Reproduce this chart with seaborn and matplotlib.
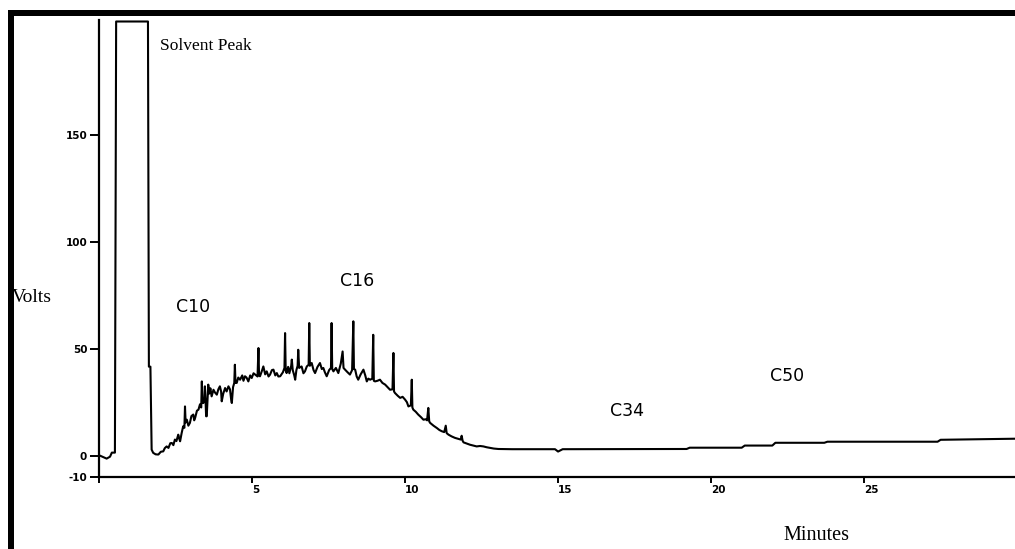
import numpy as np
import pandas as pd
import matplotlib
matplotlib.use("Agg")
import matplotlib.pyplot as plt
from matplotlib.patches import Rectangle
import seaborn as sns

# Retention time (minutes) and detector signal (volts) of the chromatogram trace
minutes = [
    0.03, 0.25, 0.36, 0.42, 0.52,
    0.56, 1.60, 1.63, 1.68, 1.72,
    1.77, 1.85, 1.94, 2.02, 2.10, 2.15, 2.21, 2.27, 2.33, 2.38,
    2.43, 2.48, 2.53, 2.59, 2.62, 2.65, 2.70, 2.75, 2.79, 2.81,
    2.83, 2.87, 2.92, 2.97, 3.02, 3.08, 3.11, 3.14, 3.20, 3.25,
    3.30, 3.34, 3.36, 3.38, 3.41, 3.44, 3.46, 3.48, 3.50, 3.52,
    3.55, 3.57, 3.60, 3.64, 3.68, 3.74, 3.79, 3.85, 3.90, 3.95,
    3.99, 4.01, 4.06, 4.12, 4.17, 4.23, 4.28, 4.32, 4.34, 4.38,
    4.42, 4.44, 4.46, 4.50, 4.55, 4.61, 4.68, 4.72, 4.77, 4.82,
    4.88, 4.94, 4.99, 5.05, 5.10, 5.18, 5.21, 5.23, 5.26, 5.32,
    5.37, 5.43, 5.48, 5.54, 5.59, 5.65, 5.70, 5.76, 5.81, 5.86,
    5.92, 6.01, 6.06, 6.08, 6.10, 6.13, 6.18, 6.22, 6.28, 6.30,
    6.33, 6.38, 6.41, 6.45, 6.49, 6.51, 6.54, 6.62, 6.68, 6.73,
    6.79, 6.85, 6.87, 6.89, 6.95, 7.01, 7.06, 7.14, 7.22, 7.28,
    7.33, 7.38, 7.44, 7.52, 7.58, 7.60, 7.62, 7.66, 7.74, 7.82,
    7.90, 7.96, 7.99, 8.04, 8.12, 8.20, 8.27, 8.31, 8.33, 8.37,
    8.42, 8.47, 8.55, 8.64, 8.70, 8.75, 8.80, 8.86, 8.93, 8.96,
    8.98, 9.02, 9.10, 9.18, 9.26, 9.35, 9.43, 9.51, 9.59, 9.62,
    9.64, 9.67, 9.76, 9.84, 9.92, 10.00, 10.06, 10.11, 10.19, 10.22,
    10.24, 10.27, 10.35, 10.43, 10.52, 10.60, 10.68, 10.72, 10.76, 10.79,
    10.82, 10.93, 11.04, 11.12, 11.20, 11.28, 11.33, 11.36, 11.42, 11.52,
    11.63, 11.75, 11.82, 11.85, 11.88, 11.91, 12.02, 12.12, 12.23, 12.34,
    12.45, 12.56, 12.67, 12.78, 12.90, 13.05, 13.50, 14.90, 15.00, 15.15,
    19.20, 19.30, 21.00, 21.10, 22.00, 22.10, 23.70, 23.80, 27.40, 27.50,
    29.93,
]
volts = [
    0.0, -1.4, -0.5, 1.4, 1.4,
    203.0, 203.0, 41.6, 41.6, 2.8,
    1.3, 0.6, 0.5, 1.8, 2.0, 3.5, 4.3, 3.6, 5.8, 5.9,
    4.9, 7.5, 6.8, 9.8, 8.0, 6.7, 10.5, 13.7, 13.0, 23.0,
    15.5, 16.8, 14.0, 15.3, 18.5, 19.2, 16.5, 17.6, 21.0, 21.5,
    24.0, 22.5, 34.7, 24.6, 24.6, 26.0, 32.4, 26.5, 18.4, 18.4,
    27.0, 33.2, 29.0, 31.5, 27.7, 30.8, 29.5, 28.5, 31.0, 32.4,
    30.0, 25.4, 29.0, 31.6, 30.0, 32.4, 31.0, 26.0, 24.6, 32.0,
    34.0, 42.5, 34.0, 34.0, 36.5, 35.5, 37.5, 35.0, 37.1, 36.5,
    34.7, 37.5, 36.3, 38.5, 37.9, 37.0, 50.3, 37.5, 37.1, 39.5,
    41.7, 38.0, 39.4, 37.0, 37.9, 40.0, 40.2, 37.5, 38.6, 37.0,
    37.1, 39.0, 41.0, 57.3, 40.0, 38.6, 41.5, 38.5, 42.0, 44.9,
    40.0, 37.5, 35.5, 40.0, 42.0, 49.5, 41.0, 41.7, 38.5, 39.4,
    41.7, 42.5, 62.0, 42.0, 43.3, 40.0, 38.6, 41.5, 43.3, 40.5,
    41.0, 39.0, 37.1, 40.0, 41.0, 62.0, 40.5, 39.4, 41.0, 38.6,
    43.0, 48.7, 41.0, 40.2, 39.0, 37.9, 40.0, 62.8, 40.5, 40.2,
    37.0, 35.5, 38.0, 40.2, 37.5, 34.7, 36.0, 35.5, 36.0, 56.5,
    35.0, 34.7, 35.0, 35.5, 34.0, 33.2, 32.0, 30.8, 31.0, 48.0,
    30.0, 29.3, 28.0, 27.0, 27.5, 26.2, 25.0, 23.0, 23.5, 35.5,
    22.5, 21.5, 20.5, 19.2, 18.0, 16.8, 17.0, 16.5, 22.3, 16.0,
    15.3, 14.0, 12.9, 12.0, 11.4, 11.0, 14.0, 10.5, 9.8, 9.0,
    8.3, 7.8, 7.5, 9.3, 7.0, 6.2, 5.6, 5.1, 4.7, 4.3,
    4.5, 4.3, 3.9, 3.6, 3.3, 3.1, 3.0, 3.0, 1.9, 3.0,
    3.1, 3.7, 3.7, 4.7, 4.7, 6.0, 6.0, 6.5, 6.5, 7.4,
    7.9,
]

y_ticks = [150, 100, 50, 0, -10]
x_ticks = [0, 5, 10, 15, 20, 25]
x_tick_labels = ["", "5", "10", "15", "20", "25"]

peak_labels = ["Solvent Peak", "C10", "C16", "C34", "C50"]
peak_label_minutes = [1.99, 2.52, 7.88, 16.7, 21.93]
peak_label_volts = [191.6, 69.6, 81.8, 21.0, 37.4]

trace = pd.DataFrame({"Minutes": minutes, "Volts": volts})

sns.set_style("ticks")
plt.rcParams["font.family"] = ["DejaVu Sans"]

W, H = 1015, 549
fig = plt.figure(figsize=(W / 100, H / 100), dpi=100)
ax = fig.add_axes([99 / W, 1 - 477 / H, 1 - 99 / W, (477 - 20) / H])

sns.lineplot(data=trace, x="Minutes", y="Volts", sort=False, estimator=None,
             color="black", linewidth=1.5, ax=ax)

ax.set_xlim(0, 29.93)
ax.set_ylim(-10, 203.7)
ax.set_xlabel("")
ax.set_ylabel("")

for side in ("top", "right"):
    ax.spines[side].set_visible(False)
for side in ("left", "bottom"):
    ax.spines[side].set_linewidth(1.6)
    ax.spines[side].set_color("black")

ax.set_yticks(y_ticks)
ax.set_yticklabels([str(v) for v in y_ticks])
ax.set_xticks(x_ticks)
ax.set_xticklabels(x_tick_labels)
ax.tick_params(axis="y", direction="out", length=6.5, width=1.4, pad=2,
               labelsize=7.5, colors="black")
ax.tick_params(axis="x", direction="out", length=4.5, width=1.4, pad=1.5,
               labelsize=7.5, colors="black")
for lab in ax.get_xticklabels() + ax.get_yticklabels():
    lab.set_fontweight("bold")
for lab in ax.get_xticklabels():
    lab.set_horizontalalignment("left")

# peak annotations
for i, (txt, t, v) in enumerate(zip(peak_labels, peak_label_minutes, peak_label_volts)):
    family = "Liberation Serif" if i == 0 else "DejaVu Sans"
    ax.text(t, v, txt, ha="left", va="center", fontsize=12.5,
            family=family, color="black")

fig.text(12 / W, 1 - 297 / H, "Volts", ha="left", va="center",
         fontsize=14, family="Liberation Serif", color="black")
fig.text(783 / W, 1 - 535 / H, "Minutes", ha="left", va="center",
         fontsize=14.5, family="Liberation Serif", color="black")

# heavy window frame along the top and left edges
fig.add_artist(Rectangle((8 / W, 0), 6 / W, 1 - 10 / H, transform=fig.transFigure,
                         facecolor="black", edgecolor="none", zorder=10))
fig.add_artist(Rectangle((8 / W, 1 - 16 / H), 1 - 8 / W, 6 / H, transform=fig.transFigure,
                         facecolor="black", edgecolor="none", zorder=10))

fig.savefig("out.png", dpi=100, facecolor="white")
